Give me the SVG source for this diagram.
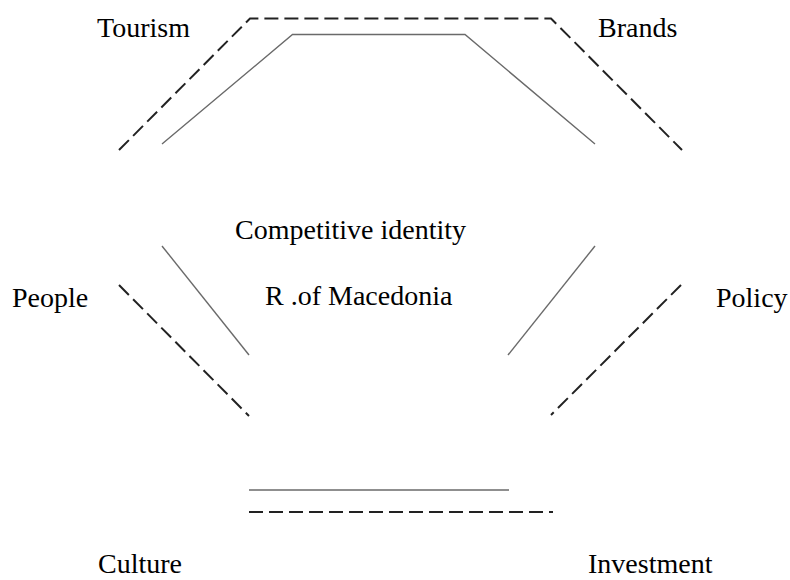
<svg xmlns="http://www.w3.org/2000/svg" width="790" height="580" viewBox="0 0 790 580">
<style>
.t{font-family:"Liberation Serif","Times New Roman",serif;font-size:28px;fill:#000}
.d{fill:none;stroke:#222;stroke-width:2;stroke-dasharray:14 6}
.s{fill:none;stroke:#6a6a6a;stroke-width:1.4}
</style>
<rect width="790" height="580" fill="#fff"/>
<g id="connectors">
<path class="d" d="M119,150 L250,18.5 L551,18.5 L682,150"/>
<path class="s" d="M162,144 L292.5,34.5 L465,34.5 L595,144"/>
<path class="s" d="M162,246 L249,355"/>
<path class="d" d="M119,285 L249,416"/>
<path class="s" d="M595,246 L508,355"/>
<path class="d" d="M681,285 L551,415"/>
<path class="s" d="M249,490 L509,490"/>
<path class="d" d="M249,512 L553,512"/>
</g>
<g id="center"><text class="t" x="235" y="239">Competitive identity</text><text class="t" x="265" y="305">R .of Macedonia</text></g>
<g id="tourism"><text class="t" x="97" y="37">Tourism</text></g>
<g id="brands"><text class="t" x="598" y="37">Brands</text></g>
<g id="people"><text class="t" x="12" y="307">People</text></g>
<g id="policy"><text class="t" x="716" y="307">Policy</text></g>
<g id="culture"><text class="t" x="98" y="573">Culture</text></g>
<g id="investment"><text class="t" x="588" y="573">Investment</text></g>
</svg>
